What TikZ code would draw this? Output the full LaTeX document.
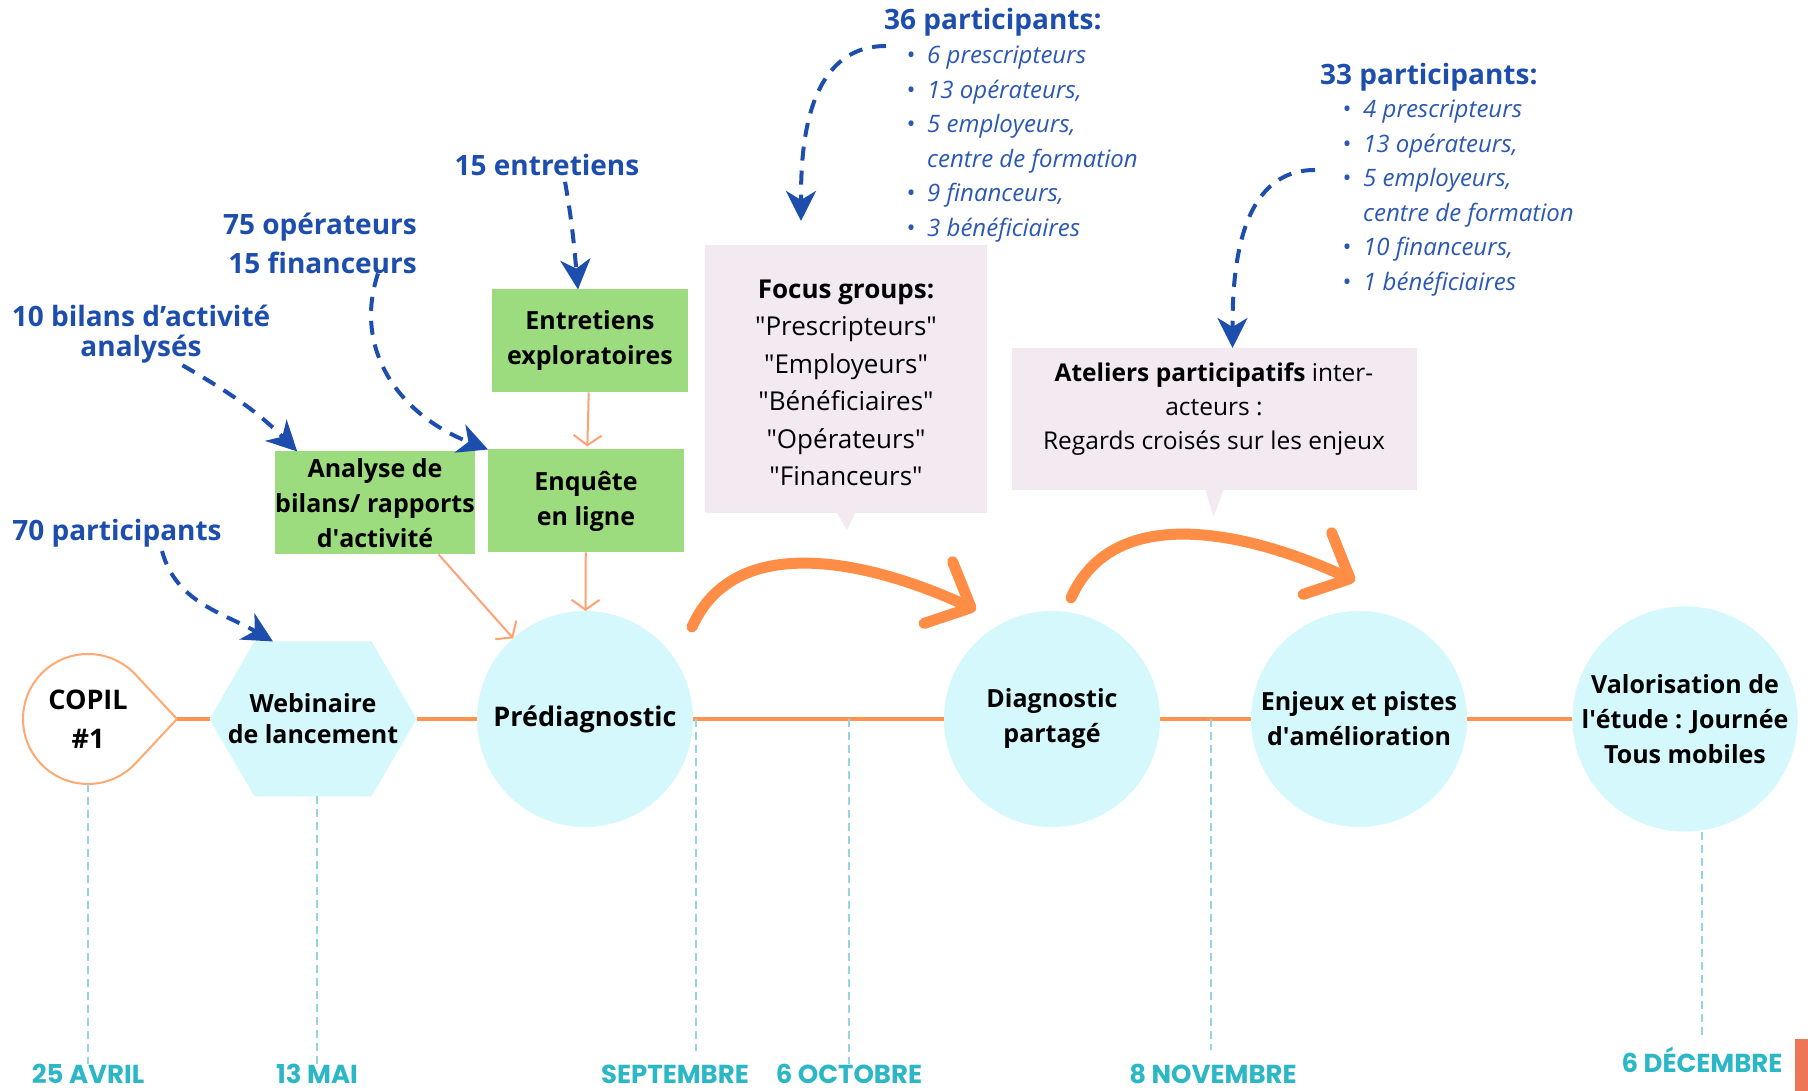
\documentclass[tikz,border=0pt]{standalone}
\usepackage{fontspec}
\setmainfont{Open Sans}
\newfontfamily\datefont{Poppins}
\usetikzlibrary{arrows.meta,backgrounds}

\definecolor{tlorange}{HTML}{FF944F}
\definecolor{thinorange}{HTML}{FFA273}
\definecolor{bigorange}{HTML}{FF8D46}
\definecolor{stepcyan}{HTML}{D5F8FC}
\definecolor{tickcyan}{HTML}{93D6E1}
\definecolor{datecyan}{HTML}{2CB7C6}
\definecolor{labelblue}{HTML}{1D4EAD}
\definecolor{listblue}{HTML}{2A58B4}
\definecolor{boxgreen}{HTML}{9DDC7E}
\definecolor{boxpink}{HTML}{F3EAF1}
\definecolor{cornerred}{HTML}{EE7656}

\newcommand{\setfs}[2]{\fontsize{#1}{#2}\selectfont}

\begin{document}
\begin{tikzpicture}
[x=1pt,y=1pt,
  stepDecorate/.style={shape=circle,fill=stepcyan,minimum size=216,inner sep=0,outer sep=0,
    align=center,font=\bfseries\setfs{25}{35}},%
  copilDecorate/.style={shape=circle,fill=white,minimum size=130,inner sep=0,outer sep=0,
    align=center,font=\bfseries\setfs{27}{39}},%
  hexDecorate/.style={shape=rectangle,minimum width=207,minimum height=155,inner sep=0,outer sep=0,
    align=center,font=\bfseries\setfs{25}{31}},%
  greenDecorate/.style={shape=rectangle,fill=boxgreen,minimum width=196,minimum height=103,
    inner sep=0,outer sep=0,align=center,font=\bfseries\setfs{25}{35}},%
  pinkDecorate/.style={shape=rectangle,fill=boxpink,inner sep=0,outer sep=0},%
  pinkText/.style={align=center,inner sep=0,font=\setfs{26}{37.5}},%
  blueLabel/.style={text=labelblue,inner sep=0,font=\bfseries\setfs{28}{30}},%
  listLabel/.style={text=listblue,inner sep=0,font=\itshape\setfs{24}{34.6}},%
  dateLabel/.style={text=datecyan,inner sep=0,anchor=base,font=\datefont\bfseries\setfs{26}{26}},%
  lineDecorate/.style={-,draw=tlorange,line width=4},%
  copilLine/.style={draw=tlorange!80,line width=2},%
  tickDecorate/.style={draw=tickcyan,line width=2,dash pattern=on 8pt off 5pt},%
  dashArrow/.style={draw=labelblue,line width=4,dash pattern=on 14pt off 10pt,
    -{Stealth[length=30pt,width=30pt,inset=9pt]}},%
  thinArrow/.style={draw=thinorange,line width=2,-{Straight Barb[length=10pt,width=28pt]}},%
  bigArrow/.style={draw=bigorange,line width=11,line cap=round,
    -{Straight Barb[length=36pt,width=68pt,round]}}]
\useasboundingbox (0,0) rectangle (1808,1091);

%% timeline steps
\node (copil) at (88,372) [copilDecorate] {COPIL\\\#1};
\coordinate (copiltip) at (177,372);
\node (webinaire) at (313,372) [hexDecorate] {Webinaire\\de lancement};
\foreach \nodename/\x/\txt in {
  prediag/585/{\setfs{27}{35}Prédiagnostic},
  diag/1052/{Diagnostic\\partagé},
  enjeux/1359/{Enjeux et pistes\\d\textquotesingle amélioration},
  valor/1685/{Valorisation de\\l\textquotesingle étude : Journée\\Tous mobiles}}
{
  \node (\nodename) at (\x,372) [stepDecorate] {\txt};
}
\begin{pgfonlayer}{background}
\fill[white] (0,0) rectangle (1808,1091);
\fill[stepcyan] (webinaire.west) -- ([xshift=45pt]webinaire.north west)
  -- ([xshift=-45pt]webinaire.north east) -- (webinaire.east)
  -- ([xshift=-45pt]webinaire.south east) -- ([xshift=45pt]webinaire.south west) -- cycle;
\end{pgfonlayer}
\draw[copilLine] (copil.43) arc[start angle=43,end angle=317,radius=65] -- (copiltip) -- cycle;

%% method boxes
\node (entretiens) at (590,750) [greenDecorate] {Entretiens\\exploratoires};
\node (enquete) at (586,590) [greenDecorate] {Enquête\\en ligne};
\node (analyse) at (375,588) [greenDecorate] {Analyse de\\bilans/ rapports\\d\textquotesingle activité};

\node (focus) at (846,712) [pinkDecorate,minimum width=282,minimum height=268] {};
\node (focustext) at (846,708) [pinkText] {\textbf{Focus groups:}\\
  \textquotedbl Prescripteurs\textquotedbl\\\textquotedbl Employeurs\textquotedbl\\
  \textquotedbl Bénéficiaires\textquotedbl\\\textquotedbl Opérateurs\textquotedbl\\
  \textquotedbl Financeurs\textquotedbl};
\node (ateliers) at (1214.5,672) [pinkDecorate,minimum width=405,minimum height=142] {};
\node (atelierstext) at (1214,682) [pinkText,font=\setfs{24.5}{34}] {\textbf{Ateliers participatifs} inter-\\
  acteurs :\\Regards croisés sur les enjeux};
\fill[boxpink] ([xshift=-9pt]focus.south) -- ([xshift=9pt]focus.south) -- ([xshift=1pt,yshift=-17pt]focus.south) -- cycle;
\fill[boxpink] ([xshift=-9pt]ateliers.south) -- ([xshift=9pt]ateliers.south) -- ([xshift=-1pt,yshift=-27pt]ateliers.south) -- cycle;

%% blue labels
\node (ent15) at (547,926) [blueLabel] {15 entretiens};
\node (opfin) at (417,848) [blueLabel,anchor=east,align=right,font=\bfseries\setfs{28}{39}] {75 opérateurs\\15 financeurs};
\node (bilans) at (141,757) [blueLabel,align=center] {10 bilans d’activité\\analysés};
\node (p70) at (117,558) [blueLabel] {70 participants};
\node (p36) at (884,1069) [blueLabel,anchor=west] {36 participants:};
\node (p33) at (1320,1014) [blueLabel,anchor=west] {33 participants:};
\node (list36) at (906,1052) [listLabel,anchor=north west] {%
  \begin{tabular}{@{}c@{\hspace{12pt}}l@{}}
  \textbullet & 6 prescripteurs\\
  \textbullet & 13 opérateurs,\\
  \textbullet & 5 employeurs,\\
   & centre de formation\\
  \textbullet & 9 financeurs,\\
  \textbullet & 3 bénéficiaires
  \end{tabular}};
\node (list33) at (1342,998) [listLabel,anchor=north west] {%
  \begin{tabular}{@{}c@{\hspace{12pt}}l@{}}
  \textbullet & 4 prescripteurs\\
  \textbullet & 13 opérateurs,\\
  \textbullet & 5 employeurs,\\
   & centre de formation\\
  \textbullet & 10 financeurs,\\
  \textbullet & 1 bénéficiaires
  \end{tabular}};

%% dates
\foreach \nodename/\x/\y/\txt in {
  d1/88/7/25 AVRIL, d2/317/7/13 MAI, d3/675/7/SEPTEMBRE,
  d4/849/7/6 OCTOBRE, d5/1213/7/8 NOVEMBRE, d6/1702/18/6 DÉCEMBRE}
{
  \node (\nodename) at (\x,\y) [dateLabel] {\txt};
}
\coordinate (tsep) at (696,372);
\coordinate (toct) at (849,372);
\coordinate (tnov) at (1211,372);
\fill[cornerred] (1795,0) rectangle (1808,52);

%% edges or lines
\path
\foreach \startnode/\endnode in {
  copiltip/webinaire.west, webinaire.east/prediag, prediag/diag, diag/enjeux, enjeux/valor}
{
  (\startnode) edge[lineDecorate] (\endnode)
};
\draw[tickDecorate] (copil.south) -- (copil.south |- d1.north);
\draw[tickDecorate] (d2.north |- webinaire.south) -- (d2.north);
\draw[tickDecorate,shorten >=14pt] (tsep) -- (tsep |- d3.north);
\draw[tickDecorate] (toct) -- (toct |- d4.north);
\draw[tickDecorate,shorten >=14pt] (tnov) -- (tnov |- d5.north);
\draw[tickDecorate,shorten >=12pt] (d6.north |- valor.south) -- (d6.north);

\draw[thinArrow,shorten >=3pt] (entretiens) -- (enquete);
\draw[thinArrow] (analyse.-39) -- (prediag);
\draw[thinArrow] (enquete) -- (prediag);

\draw[dashArrow,shorten <=6pt] ([xshift=17pt]ent15.south) to[out=-80,in=95] ([xshift=-12pt]entretiens.north);
\draw[dashArrow] ([xshift=58pt]opfin.south) .. controls +(-25,-75) and +(-90,35) .. (enquete.north west);
\draw[dashArrow,shorten <=4pt] ([xshift=38pt]bilans.south) to[out=-30,in=135] ([xshift=22pt]analyse.north west);
\draw[dashArrow,shorten <=4pt] ([xshift=44pt]p70.south) to[out=-75,in=150] ([xshift=-40pt]webinaire.north);
\draw[dashArrow,shorten >=24pt] ([shift={(2,-24)}]p36.west) to[out=180,in=90] ([xshift=-45pt]focus.north);
\draw[dashArrow] ([shift={(-27,27)}]list33.west) to[out=180,in=90] ([xshift=18pt]ateliers.north);

\coordinate (arcA1) at (692,464);
\coordinate (arcA2) at (976,481);
\coordinate (arcB1) at (1071,493);
\coordinate (arcB2) at (1355,510);
\draw[bigArrow] (arcA1) .. controls (735,561) and (870,530) .. (arcA2);
\draw[bigArrow] (arcB1) .. controls (1114,590) and (1249,559) .. (arcB2);
\end{tikzpicture}
\end{document}
